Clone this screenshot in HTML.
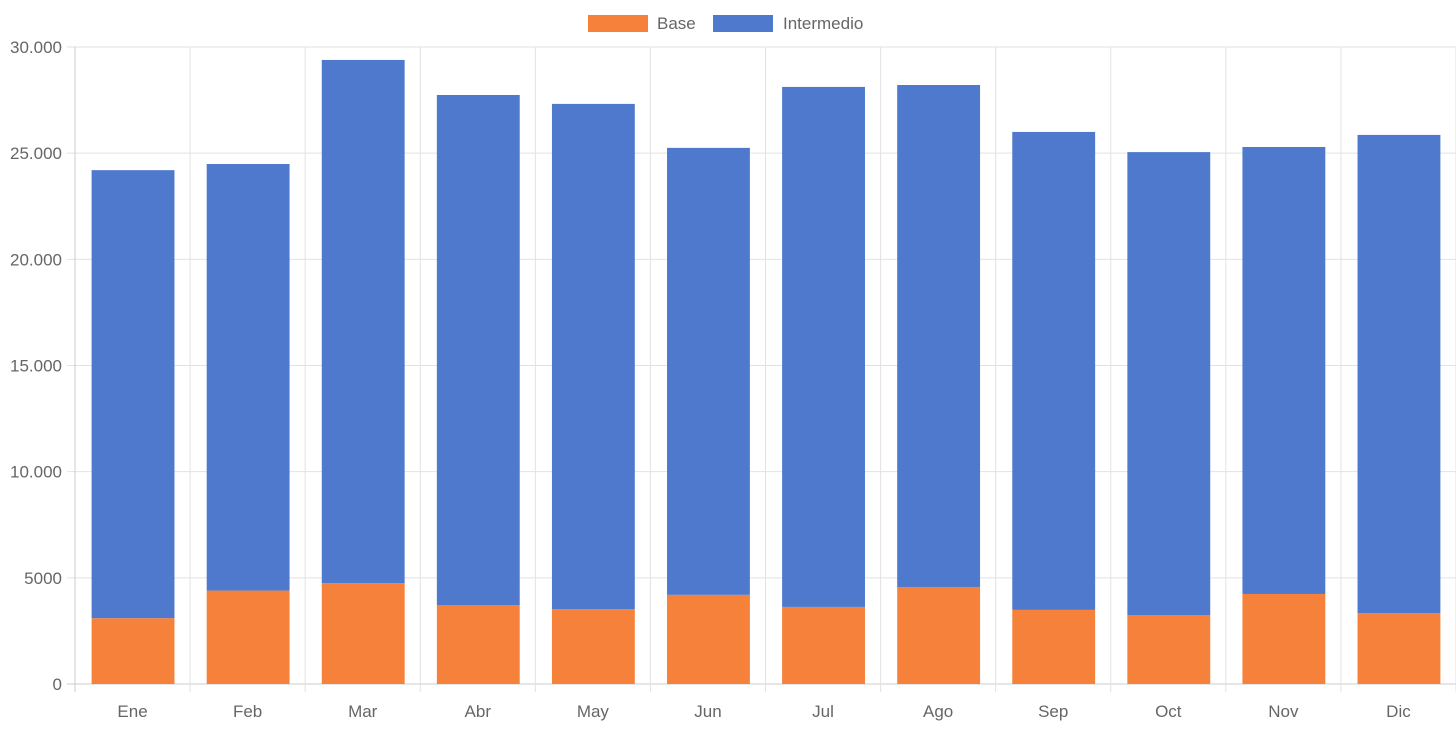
<!DOCTYPE html>
<html><head><meta charset="utf-8"><style>
body{margin:0;background:#fff;font-family:"Liberation Sans",Arial,sans-serif;}
svg text{font-family:"Liberation Sans",Arial,sans-serif;fill:#666;font-size:17px;}
</style></head><body>
<svg id="chart" width="1456" height="727" xmlns="http://www.w3.org/2000/svg">
<g id="legend">
<rect x="588" y="15" width="60" height="17" fill="#f5813a"/>
<text x="657" y="29">Base</text>
<rect x="713" y="15" width="60" height="17" fill="#4e79cc"/>
<text x="783" y="29">Intermedio</text>
</g>
<g id="grid"></g><g id="bars"></g><g id="labels"></g>
</svg>
<script>
const categories=["Ene","Feb","Mar","Abr","May","Jun","Jul","Ago","Sep","Oct","Nov","Dic"];
const baseValues=[3100,4400,4750,3720,3530,4200,3630,4570,3490,3250,4240,3340];
const intermedioValues=[21100,20090,24640,24020,23790,21050,24490,23640,22510,21800,21050,22520];
const yTicks=[0,5000,10000,15000,20000,25000,30000];
const yTickLabels=["0","5000","10.000","15.000","20.000","25.000","30.000"];
{
const NS="http://www.w3.org/2000/svg";
const plotLeft=75,plotRight=1456,plotTop=47,plotBottom=684,yMax=30000;
const bw=(plotRight-plotLeft)/categories.length;
const yScale=v=>plotBottom-(v/yMax)*(plotBottom-plotTop);
const xc=i=>plotLeft+bw*(i+0.5);
function mk(tag,attrs,parent){const e=document.createElementNS(NS,tag);for(const k in attrs)e.setAttribute(k,attrs[k]);parent.appendChild(e);return e;}
const grid=document.getElementById('grid'),bars=document.getElementById('bars'),labels=document.getElementById('labels');
yTicks.forEach((t,i)=>{
 const l=mk('line',{x1:plotLeft-8,x2:plotRight,y1:yScale(t),y2:yScale(t),stroke:i==0?'#ccc':'#e2e2e2','stroke-width':1},grid);
 
 
 const tx=mk('text',{x:62,y:yScale(t)+6,'text-anchor':'end'},labels);
 tx.textContent=yTickLabels[i];
 
 
});
for(let i=0;i<=categories.length;i++){
 const x=plotLeft+bw*i;
 const l=mk('line',{x1:x,x2:x,y1:plotTop,y2:plotBottom+8,stroke:i==0?'#ccc':'#e2e2e2','stroke-width':1},grid);
 
 
}
categories.forEach((c,i)=>{
 const w=bw*0.72,x=xc(i)-w/2+0.5;
 const b=baseValues[i],m=intermedioValues[i];
 const r1=mk('rect',{x:x,y:yScale(b),width:w,height:plotBottom-yScale(b),fill:'#f5813a'},bars);
 
 
 const r2=mk('rect',{x:x,y:yScale(b+m),width:w,height:yScale(b)-yScale(b+m),fill:'#4e79cc'},bars);
 
 
 const tx=mk('text',{x:xc(i),y:717,'text-anchor':'middle'},labels);
 tx.textContent=c;
 
 
});
}
</script>
</body></html>
